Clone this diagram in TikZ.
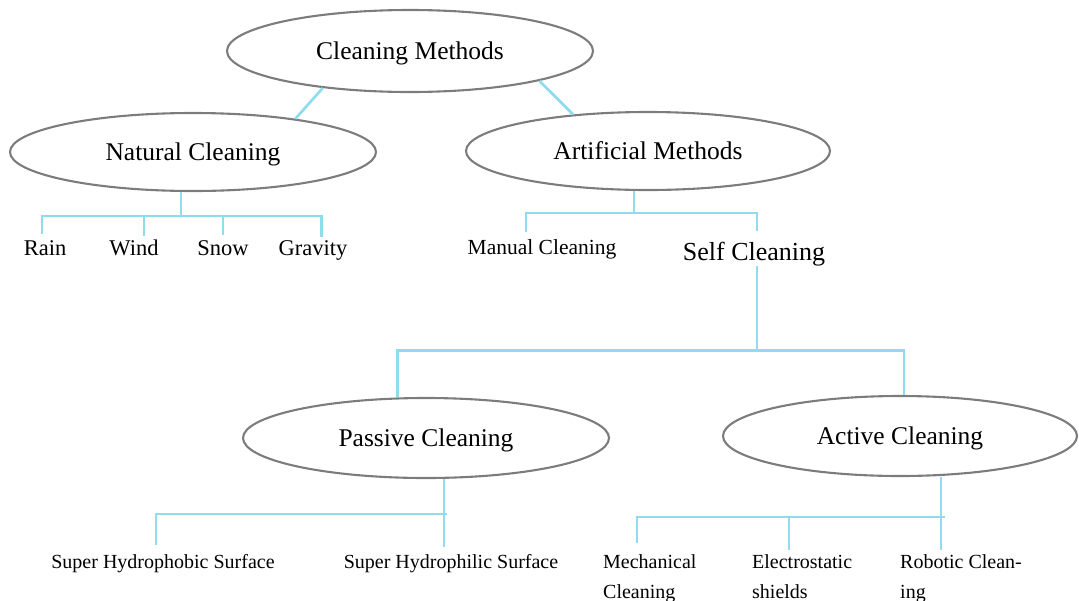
\documentclass[tikz,border=0pt]{standalone}
\usepackage{fontspec}
\setmainfont{Liberation Serif}
\usetikzlibrary{shapes.geometric}
\definecolor{linkblue}{HTML}{8FDCEE}
\definecolor{rim}{HTML}{7C7C7C}
\tikzset{
  oval/.style={ellipse, draw=rim, line width=2.1pt, inner sep=0pt, text depth=0pt,
    font=\fontsize{25.5}{30}\selectfont},
  leaf/.style={inner sep=0pt, anchor=base, font=\fontsize{22.5}{27}\selectfont},
  small/.style={inner sep=0pt, font=\fontsize{20}{30}\selectfont, align=left},
  link/.style={draw=linkblue, line width=2.7pt},
}
\begin{document}
\begin{tikzpicture}[x=1pt,y=-1pt]
\useasboundingbox (0,0) rectangle (1079,600);

% ellipses
\node[oval, minimum width=366pt, minimum height=82pt] (cm)  at (410,51)  {Cleaning Methods};
\node[oval, minimum width=366pt, minimum height=78pt] (nat) at (193,152) {Natural Cleaning};
\node[oval, minimum width=364pt, minimum height=78pt] (art) at (648,151) {Artificial Methods};
\node[oval, minimum width=366pt, minimum height=80pt] (pas) at (426,438) {Passive Cleaning};
\node[oval, minimum width=354pt, minimum height=80pt] (act) at (900,436) {Active Cleaning};

% plain labels
\node[leaf] (rain) at (45,255)  {Rain};
\node[leaf] (wind) at (134,255) {Wind};
\node[leaf] (snow) at (223,255) {Snow};
\node[leaf] (grav) at (313,255) {Gravity};
\node[leaf, font=\fontsize{21.5}{26}\selectfont] (manual) at (542,254) {Manual Cleaning};
\node[leaf, font=\fontsize{26}{31}\selectfont] (self) at (754,260) {Self Cleaning};
\node[small, anchor=base] (phob) at (163,568) {Super Hydrophobic Surface};
\node[small, anchor=base] (phil) at (451,568) {Super Hydrophilic Surface};
\node[small, anchor=north west] (mech)  at (603,554.3) {Mechanical\\Cleaning};
\node[small, anchor=north west] (elec)  at (752,554.3) {Electrostatic\\shields};
\node[small, anchor=north west] (robot) at (900,554.3) {Robotic Clean-\\ing};

% top level links
\draw[link] (cm.203) -- (nat.18);
\draw[link] (cm.347) -- (art.154);

% natural cleaning bus
\draw[link] ([xshift=-12pt]nat.south) -- ++(0,24) coordinate (nbus);
\draw[link] ([xshift=-3pt,yshift=6pt]rain.north) |- (nbus);
\draw[link] ([xshift=10pt,yshift=3pt]wind.north) |- (nbus);
\draw[link] ([yshift=5pt]snow.north) |- (nbus);
\draw[link] ([xshift=8.5pt,yshift=3pt]grav.north) |- (nbus);

% artificial methods bus
\draw[link] ([xshift=-14pt]art.south) -- ++(0,22) coordinate (abus);
\draw[link] ([xshift=-16pt,yshift=7pt]manual.north) |- (abus);
\draw[link] ([xshift=3pt,yshift=10pt]self.north) |- (abus);

% self cleaning bus
\draw[link] ([xshift=3pt]self.south) -- ++(0,85) coordinate (sbus);
\draw[link] (pas.125) |- (sbus);
\draw[link] ([xshift=4pt]act.north) |- (sbus);

% passive cleaning bus
\path ([xshift=18pt]pas.south) ++(0,35) coordinate (pbus);
\draw[link] ([xshift=18pt]pas.south) -- ++(0,68);
\draw[link] ([xshift=-7pt,yshift=9pt]phob.north) |- ([xshift=3pt]pbus);

% active cleaning bus
\path ([xshift=41pt]act.south) ++(0,40) coordinate (cbus);
\draw[link] ([xshift=41pt]act.south) -- ([xshift=41pt,yshift=4pt]robot.north west);
\draw[link] ([xshift=34pt,yshift=11pt]mech.north west) |- ([xshift=4pt]cbus);
\draw[link] ([xshift=37pt,yshift=4pt]elec.north west) |- (cbus);
\end{tikzpicture}
\end{document}
